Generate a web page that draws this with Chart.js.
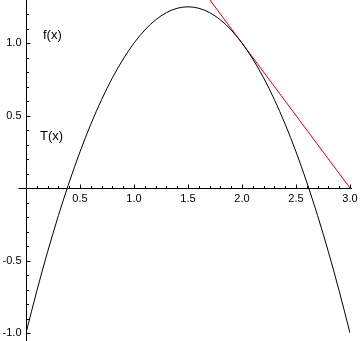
<!DOCTYPE html>
<html>
<head>
<meta charset="utf-8">
<script src="https://cdn.jsdelivr.net/npm/chart.js@4.4.0/dist/chart.umd.min.js"></script>
<style>
html, body { margin: 0; padding: 0; background: #fff; }
canvas { display: block; }
</style>
</head>
<body>
<canvas id="plot" width="360" height="341"></canvas>
<script>
// curve f(x), every 0.1
var xs = [0.0, 0.1, 0.2, 0.3, 0.4, 0.5, 0.6, 0.7, 0.8, 0.9, 1.0,
          1.1, 1.2, 1.3, 1.4, 1.5, 1.6, 1.7, 1.8, 1.9, 2.0,
          2.1, 2.2, 2.3, 2.4, 2.5, 2.6, 2.7, 2.8, 2.9, 3.0];
var fx = [-1.0, -0.71, -0.44, -0.19, 0.04, 0.25, 0.44, 0.61, 0.76, 0.89, 1.0,
          1.09, 1.16, 1.21, 1.24, 1.25, 1.24, 1.21, 1.16, 1.09, 1.0,
          0.89, 0.76, 0.61, 0.44, 0.25, 0.04, -0.19, -0.44, -0.71, -1.0];

// tangent line T(x)
var tX = [1.7, 3.0];
var tY = [1.3, 0.0];

// tick labels
var xLabels = [0.5, 1.0, 1.5, 2.0, 2.5, 3.0];
var yLabels = [-1.0, -0.5, 0.5, 1.0];

function pts(a, b) {
    var out = [];
    for (var i = 0; i < a.length; i++) out.push({x: a[i], y: b[i]});
    return out;
}

// axes drawn by hand so they cross at the origin
var axesPlugin = {
    id: 'axes',
    beforeDatasetsDraw: function (chart) {
        var ctx = chart.ctx;
        var sx = chart.scales.x, sy = chart.scales.y;
        var x0 = Math.round(sx.getPixelForValue(0)) + 0.5;
        var y0 = Math.round(sy.getPixelForValue(0)) + 0.5;
        ctx.save();
        ctx.strokeStyle = '#000';
        ctx.lineWidth = 1;
        ctx.beginPath();
        ctx.moveTo(x0 - 8, y0);
        ctx.lineTo(sx.getPixelForValue(3) + 2, y0);
        ctx.moveTo(x0, 0);
        ctx.lineTo(x0, chart.height);
        // x ticks every 0.1
        for (var i = 1; i <= 30; i++) {
            var px = Math.round(sx.getPixelForValue(i / 10)) + 0.5;
            var len = (i % 5 === 0) ? 4 : 2.5;
            ctx.moveTo(px, y0);
            ctx.lineTo(px, y0 - len);
        }
        // y ticks every 0.1
        for (var j = -10; j <= 12; j++) {
            if (j === 0) continue;
            var py = Math.round(sy.getPixelForValue(j / 10)) + 0.5;
            var l = (j % 5 === 0) ? 4 : 2.5;
            ctx.moveTo(x0, py);
            ctx.lineTo(x0 + l, py);
        }
        ctx.stroke();

        ctx.fillStyle = '#000';
        ctx.font = '11px "Liberation Sans", Arial, sans-serif';
        ctx.textAlign = 'center';
        ctx.textBaseline = 'middle';
        xLabels.forEach(function (v) {
            ctx.fillText(v.toFixed(1), sx.getPixelForValue(v), y0 + 10);
        });
        ctx.textAlign = 'right';
        yLabels.forEach(function (v) {
            ctx.fillText(v.toFixed(1), x0 - 5, sy.getPixelForValue(v));
        });

        ctx.font = '13px "Liberation Sans", Arial, sans-serif';
        ctx.textAlign = 'left';
        ctx.fillText('f(x)', 43, 35);
        ctx.fillText('T(x)', 40, 136);
        ctx.restore();
    }
};

var chart = new Chart(document.getElementById('plot'), {
    type: 'line',
    data: {
        datasets: [{
            data: pts(xs, fx),
            borderColor: '#000000',
            borderWidth: 1,
            pointRadius: 0,
            cubicInterpolationMode: 'monotone',
            fill: false
        }, {
            data: pts(tX, tY),
            borderColor: '#e8000b',
            borderWidth: 1,
            pointRadius: 0,
            tension: 0,
            fill: false
        }]
    },
    options: {
        responsive: false,
        animation: false,
        devicePixelRatio: 1,
        layout: { padding: { left: 26, right: 10, top: 0, bottom: 0 } },
        plugins: { legend: { display: false }, tooltip: { enabled: false } },
        scales: {
            x: { type: 'linear', min: 0, max: 3, display: false },
            y: { type: 'linear', min: -1.055, max: 1.297, display: false }
        }
    },
    plugins: [axesPlugin]
});
</script>
</body>
</html>
